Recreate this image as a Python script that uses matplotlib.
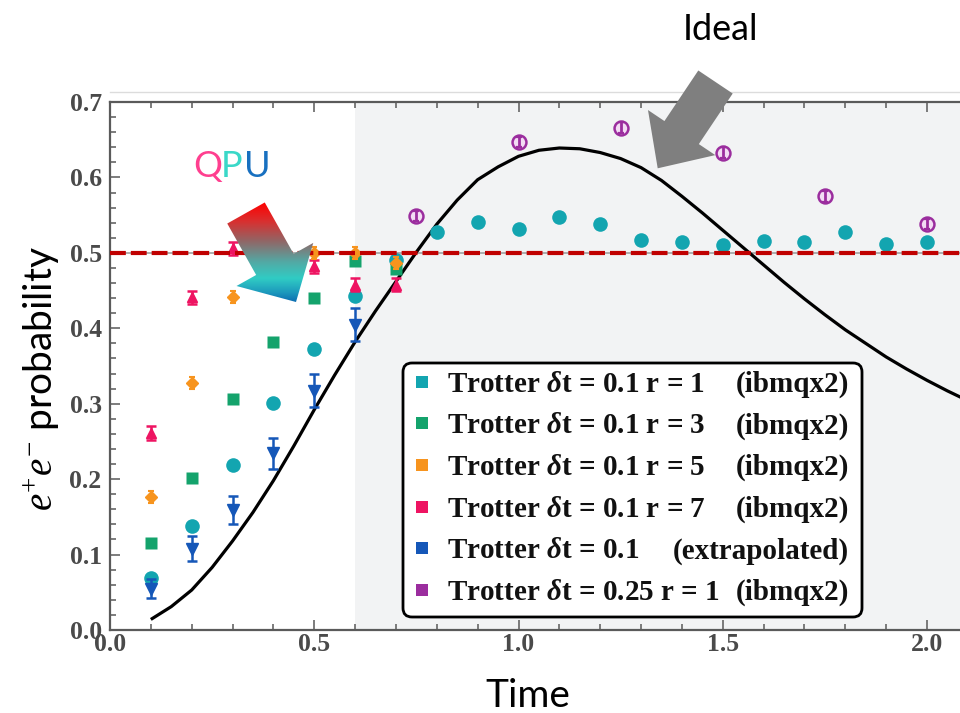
import numpy as np
import matplotlib
matplotlib.use("Agg")
import matplotlib.pyplot as plt
from matplotlib.patches import Polygon, FancyBboxPatch, Rectangle
from matplotlib.colors import LinearSegmentedColormap
from matplotlib.ticker import MultipleLocator, FixedLocator, FormatStrFormatter

# ---------------- data ----------------
t_r1 = [0.1, 0.2, 0.3, 0.4, 0.5, 0.6, 0.7, 0.8, 0.9, 1.0,
        1.1, 1.2, 1.3, 1.4, 1.5, 1.6, 1.7, 1.8, 1.9, 2.0]
p_r1 = [0.069, 0.138, 0.219, 0.301, 0.373, 0.443, 0.490, 0.528, 0.541, 0.531,
        0.547, 0.538, 0.517, 0.515, 0.510, 0.516, 0.514, 0.527, 0.512, 0.514]

t_r3 = [0.1, 0.2, 0.3, 0.4, 0.5, 0.6, 0.7]
p_r3 = [0.116, 0.202, 0.306, 0.382, 0.440, 0.489, 0.478]

t_r5 = [0.1, 0.2, 0.3, 0.5, 0.6, 0.7]
p_r5 = [0.176, 0.328, 0.442, 0.500, 0.500, 0.486]

t_r7 = [0.1, 0.2, 0.3, 0.5, 0.6, 0.7]
p_r7 = [0.261, 0.441, 0.506, 0.482, 0.458, 0.458]

t_ex = [0.1, 0.2, 0.3, 0.4, 0.5, 0.6]
p_ex = [0.055, 0.108, 0.159, 0.234, 0.317, 0.405]
e_ex = [0.013, 0.016, 0.019, 0.021, 0.022, 0.022]

t_q = [0.75, 1.0, 1.25, 1.5, 1.75, 2.0]
p_q = [0.549, 0.647, 0.666, 0.633, 0.575, 0.538]

t_ideal = [0.10, 0.15, 0.20, 0.25, 0.30, 0.35, 0.40, 0.45, 0.50, 0.55, 0.60,
           0.65, 0.70, 0.75, 0.80, 0.85, 0.90, 0.95, 1.00, 1.05, 1.10, 1.15,
           1.20, 1.25, 1.30, 1.35, 1.40, 1.45, 1.50, 1.55, 1.60, 1.65, 1.70,
           1.75, 1.80, 1.85, 1.90, 1.95, 2.00, 2.05, 2.10]
p_ideal = [0.014, 0.031, 0.053, 0.083, 0.118, 0.156, 0.198, 0.244, 0.292, 0.338, 0.382,
           0.423, 0.462, 0.501, 0.538, 0.570, 0.597, 0.614, 0.628, 0.636, 0.639, 0.638,
           0.633, 0.625, 0.613, 0.596, 0.575, 0.553, 0.530, 0.507, 0.484, 0.461, 0.439,
           0.418, 0.398, 0.380, 0.362, 0.346, 0.331, 0.317, 0.304]

half_level = 0.5

legend_left = ["Trotter $\\mathbfit{\\delta}$t = 0.1 r = 1",
               "Trotter $\\mathbfit{\\delta}$t = 0.1 r = 3",
               "Trotter $\\mathbfit{\\delta}$t = 0.1 r = 5",
               "Trotter $\\mathbfit{\\delta}$t = 0.1 r = 7",
               "Trotter $\\mathbfit{\\delta}$t = 0.1",
               "Trotter $\\mathbfit{\\delta}$t = 0.25 r = 1"]
legend_right = ["(ibmqx2)", "(ibmqx2)", "(ibmqx2)", "(ibmqx2)",
                "(extrapolated)", "(ibmqx2)"]

c_r1 = "#13a5b0"
c_r3 = "#14a36c"
c_r5 = "#f7941e"
c_r7 = "#ee1462"
c_ex = "#1557b8"
c_q = "#9b2d9e"
legend_colors = [c_r1, c_r3, c_r5, c_r7, c_ex, c_q]

# ---------------- style ----------------
plt.rcParams.update({
    "mathtext.fontset": "custom",
    "mathtext.rm": "Liberation Serif",
    "mathtext.it": "Liberation Serif:italic",
    "mathtext.bf": "Liberation Serif:bold",
    "mathtext.bfit": "Liberation Serif:italic:bold",
})

W, H = 960, 713
fig = plt.figure(figsize=(9.6, 7.13), dpi=100)
fig.patch.set_facecolor("white")

x0px, x1px, ybot, ytop = 110, 960, 630, 102
px_per_unit = 408.5
ax = fig.add_axes([x0px / W, 1 - ybot / H, (x1px - x0px) / W, (ybot - ytop) / H])
ax.set_xlim(0, (x1px - x0px) / px_per_unit)
ax.set_ylim(0, 0.7)

ax.axvspan(0.6, 3.0, color="#f2f3f4", zorder=0, lw=0)

ax.axhline(half_level, color="#a0a0a0", lw=1.2, zorder=1)
ax.axhline(half_level, color="#c00000", lw=3.0, dashes=(3.8, 1.2), zorder=6)

ax.plot(t_ideal, p_ideal, color="black", lw=2.3, zorder=3,
        solid_joinstyle="round", solid_capstyle="butt")

ax.plot(t_r1, p_r1, "o", color=c_r1, ms=10.5, mec="none", zorder=4)
ax.plot(t_r3, p_r3, "s", color=c_r3, ms=9, mec="none", zorder=4)
ax.errorbar(t_ex, p_ex, yerr=e_ex, fmt="v", color=c_ex, ms=8, capsize=3.5,
            elinewidth=1.8, capthick=1.8, zorder=4)
ax.errorbar(t_r7, p_r7, yerr=0.009, fmt="^", color=c_r7, ms=7, capsize=3.5,
            elinewidth=1.8, capthick=1.8, zorder=5)
ax.errorbar(t_r5, p_r5, yerr=0.008, fmt="D", color=c_r5, ms=6, capsize=2.5,
            elinewidth=1.8, capthick=1.5, zorder=5)
ax.plot(t_q, p_q, "o", ms=10, mfc="#f3dcf4", mec=c_q, mew=1.8, zorder=5)
ax.errorbar(t_q, p_q, yerr=0.007, fmt="none", ecolor=c_q, capsize=2.5,
            elinewidth=2.0, capthick=1.6, zorder=6)

# axes frame and ticks
for s in ["left", "top", "bottom"]:
    ax.spines[s].set_color("#5a5a5a")
    ax.spines[s].set_linewidth(1.6)
ax.spines["right"].set_visible(False)

ax.xaxis.set_major_locator(FixedLocator([0.0, 0.5, 1.0, 1.5, 2.0]))
ax.xaxis.set_minor_locator(MultipleLocator(0.1))
ax.yaxis.set_major_locator(MultipleLocator(0.1))
ax.yaxis.set_minor_locator(MultipleLocator(0.02))
ax.xaxis.set_major_formatter(FormatStrFormatter("%.1f"))
ax.yaxis.set_major_formatter(FormatStrFormatter("%.1f"))
ax.tick_params(axis="x", which="both", direction="in", top=True, bottom=True,
               color="#666666", width=1.2)
ax.tick_params(axis="y", which="both", direction="in", left=True, right=False,
               color="#666666", width=1.2)
ax.tick_params(which="major", length=7)
ax.tick_params(which="minor", length=4)
ax.tick_params(axis="x", pad=2)
ax.tick_params(axis="y", pad=6)
for lab in ax.get_xticklabels() + ax.get_yticklabels():
    lab.set_fontfamily("Liberation Serif")
    lab.set_fontweight("bold")
    lab.set_fontsize(18.5)
    lab.set_color("#4a4a4a")

# ---------------- overlay in pixel coordinates ----------------
ov = fig.add_axes([0, 0, 1, 1], zorder=10)
ov.set_xlim(0, W)
ov.set_ylim(H, 0)
ov.axis("off")
ov.patch.set_alpha(0)

ov.plot([110, 960], [92, 92], color="#dcdcdc", lw=1.0, zorder=1)

# legend (manual)
box = FancyBboxPatch((403, 363), 459, 254, boxstyle="round,pad=0,rounding_size=9",
                     fc="white", ec="black", lw=2.0, zorder=3)
ov.add_patch(box)
row_y = [381.7, 423.3, 465.0, 506.7, 548.3, 590.0]
for yy, lt, rt, col in zip(row_y, legend_left, legend_right, legend_colors):
    ov.add_patch(Rectangle((416, yy - 6), 12, 12, fc=col, ec="none", zorder=4))
    ov.text(447, yy + 10, lt, fontsize=21, fontweight="bold", zorder=4,
            family="Liberation Serif", ha="left", va="baseline", color="#111111")
    ov.text(849, yy + 10, rt, fontsize=21, fontweight="bold", zorder=4,
            family="Liberation Serif", ha="right", va="baseline", color="#111111")

# gray "Ideal" arrow
def block_arrow(C, tip, half_w, barb_w, base_frac):
    C = np.array(C, float)
    tip = np.array(tip, float)
    d = tip - C
    L = np.linalg.norm(d)
    u = d / L
    n = np.array([-u[1], u[0]])
    B = C + u * L * base_frac
    pts = [C - half_w * n, B - half_w * n, B - barb_w * n, tip,
           B + barb_w * n, B + half_w * n, C + half_w * n]
    return np.array(pts)

gray_pts = block_arrow((715.5, 82.0), (657.7, 168.3), 20.7, 40.5, 0.586)
ov.add_patch(Polygon(gray_pts, closed=True, fc="#7f7f7f", ec="none", zorder=5))
ov.text(721, 40, "Ideal", fontsize=26, family="Lato", ha="center", va="baseline",
        color="black")

# gradient "QPU" arrow
qpu_pts = block_arrow((246.0, 213.0), (296.0, 302.0), 21.5, 44.0, 0.578)
clip = Polygon(qpu_pts, closed=True, fc="none", ec="none")
ov.add_patch(clip)
stops = [(0.0, "#ff0000"), (0.19, "#d83030"), (0.39, "#8e6868"), (0.59, "#52aaa5"),
         (0.75, "#30ccc4"), (0.89, "#1c98bc"), (1.0, "#0a64b0")]
cmap = LinearSegmentedColormap.from_list("qpu", stops)
grad = np.linspace(0, 1, 256).reshape(-1, 1)
im = ov.imshow(grad, cmap=cmap, extent=[215, 320, 304, 202], origin="upper",
               aspect="auto", interpolation="bilinear", zorder=5)
im.set_clip_path(clip)
ov.set_xlim(0, W)
ov.set_ylim(H, 0)

for ch, xx, col in zip("QPU", [193, 221, 244], ["#ff3f8f", "#3ad8c8", "#1870c0"]):
    ov.text(xx, 177, ch, fontsize=26, family="Lato", ha="left", va="baseline", color=col)

# axis titles
ov.text(528, 707, "Time", fontsize=28, family="Lato", ha="center", va="baseline",
        color="black")
ov.text(42, 379, "$e^{+}e^{-}$ probability", fontsize=28, family="Lato",
        rotation=90, ha="center", va="center", color="black")

fig.savefig("out.png", dpi=100, facecolor="white")
